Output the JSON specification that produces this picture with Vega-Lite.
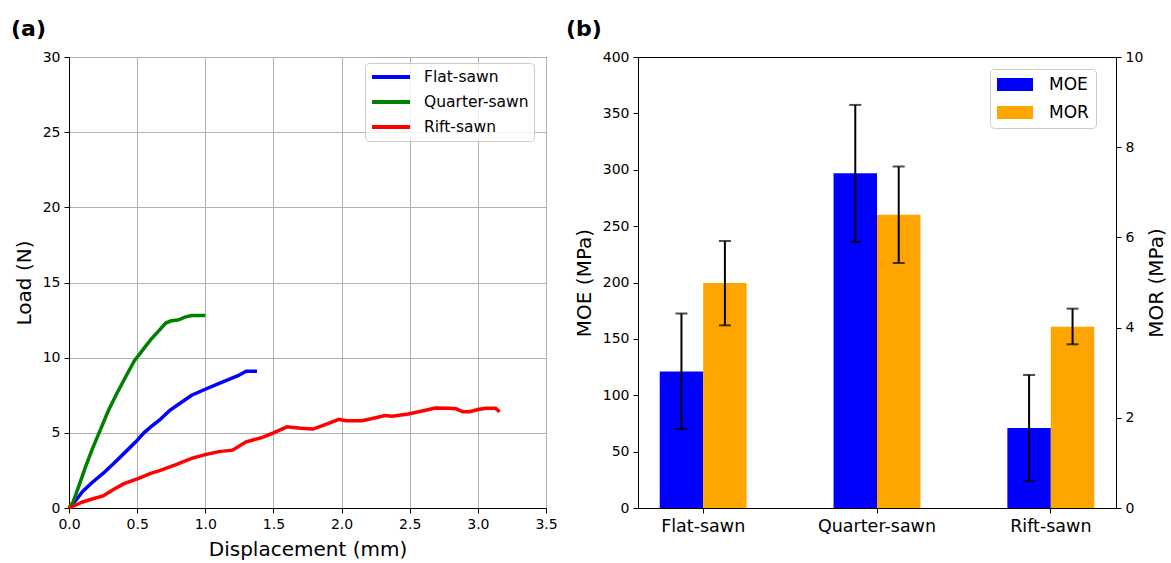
{
  "$schema": "https://vega.github.io/schema/vega-lite/v6.json",
  "background": "white",
  "padding": {"left": 10, "top": 17, "right": 0, "bottom": 0},
  "spacing": 7,
  "config": {
    "font": "DejaVu Sans",
    "view": {"stroke": "black", "strokeWidth": 1},
    "axis": {
      "domainColor": "black", "domainWidth": 1,
      "tickColor": "black", "tickSize": 5, "tickWidth": 1,
      "labelColor": "black", "labelFontSize": 14, "labelPadding": 4, "labelFont": "DejaVu Sans", "labelFlush": false,
      "titleColor": "black", "titleFontSize": 20, "titleFontWeight": "normal", "titlePadding": 8, "titleFont": "DejaVu Sans",
      "gridColor": "#b0b0b0", "gridWidth": 1, "gridOpacity": 1
    },
    "legend": {
      "labelColor": "black", "labelFont": "DejaVu Sans",
      "strokeColor": "#cccccc", "fillColor": "rgba(255,255,255,0.8)", "cornerRadius": 4
    },
    "title": {"font": "DejaVu Sans", "fontSize": 22, "fontWeight": "bold", "color": "black", "anchor": "start", "frame": "group", "baseline": "alphabetic", "offset": 9}
  },
  "datasets": {
    "curves": [
      {"cut": "Flat-sawn", "disp": 0.0, "load": 0.0},
      {"cut": "Flat-sawn", "disp": 0.05, "load": 0.5},
      {"cut": "Flat-sawn", "disp": 0.1, "load": 1.1},
      {"cut": "Flat-sawn", "disp": 0.17, "load": 1.7},
      {"cut": "Flat-sawn", "disp": 0.25, "load": 2.3},
      {"cut": "Flat-sawn", "disp": 0.32, "load": 2.9},
      {"cut": "Flat-sawn", "disp": 0.4, "load": 3.6},
      {"cut": "Flat-sawn", "disp": 0.49, "load": 4.4},
      {"cut": "Flat-sawn", "disp": 0.55, "load": 5.0},
      {"cut": "Flat-sawn", "disp": 0.6, "load": 5.4},
      {"cut": "Flat-sawn", "disp": 0.67, "load": 5.9},
      {"cut": "Flat-sawn", "disp": 0.74, "load": 6.5},
      {"cut": "Flat-sawn", "disp": 0.82, "load": 7.0},
      {"cut": "Flat-sawn", "disp": 0.9, "load": 7.5},
      {"cut": "Flat-sawn", "disp": 1.0, "load": 7.9},
      {"cut": "Flat-sawn", "disp": 1.08, "load": 8.2},
      {"cut": "Flat-sawn", "disp": 1.16, "load": 8.5},
      {"cut": "Flat-sawn", "disp": 1.24, "load": 8.8},
      {"cut": "Flat-sawn", "disp": 1.3, "load": 9.1},
      {"cut": "Flat-sawn", "disp": 1.38, "load": 9.1},
      {"cut": "Quarter-sawn", "disp": 0.0, "load": 0.0},
      {"cut": "Quarter-sawn", "disp": 0.03, "load": 0.4},
      {"cut": "Quarter-sawn", "disp": 0.07, "load": 1.4},
      {"cut": "Quarter-sawn", "disp": 0.12, "load": 2.7},
      {"cut": "Quarter-sawn", "disp": 0.17, "load": 3.9},
      {"cut": "Quarter-sawn", "disp": 0.23, "load": 5.2},
      {"cut": "Quarter-sawn", "disp": 0.29, "load": 6.5},
      {"cut": "Quarter-sawn", "disp": 0.35, "load": 7.6},
      {"cut": "Quarter-sawn", "disp": 0.42, "load": 8.8},
      {"cut": "Quarter-sawn", "disp": 0.48, "load": 9.8},
      {"cut": "Quarter-sawn", "disp": 0.54, "load": 10.5},
      {"cut": "Quarter-sawn", "disp": 0.6, "load": 11.2},
      {"cut": "Quarter-sawn", "disp": 0.66, "load": 11.8},
      {"cut": "Quarter-sawn", "disp": 0.71, "load": 12.3},
      {"cut": "Quarter-sawn", "disp": 0.75, "load": 12.45},
      {"cut": "Quarter-sawn", "disp": 0.8, "load": 12.5},
      {"cut": "Quarter-sawn", "disp": 0.85, "load": 12.7},
      {"cut": "Quarter-sawn", "disp": 0.9, "load": 12.8},
      {"cut": "Quarter-sawn", "disp": 0.95, "load": 12.8},
      {"cut": "Quarter-sawn", "disp": 1.0, "load": 12.8},
      {"cut": "Rift-sawn", "disp": 0.0, "load": 0.0},
      {"cut": "Rift-sawn", "disp": 0.05, "load": 0.2},
      {"cut": "Rift-sawn", "disp": 0.1, "load": 0.4},
      {"cut": "Rift-sawn", "disp": 0.17, "load": 0.6},
      {"cut": "Rift-sawn", "disp": 0.25, "load": 0.8},
      {"cut": "Rift-sawn", "disp": 0.32, "load": 1.2},
      {"cut": "Rift-sawn", "disp": 0.4, "load": 1.6},
      {"cut": "Rift-sawn", "disp": 0.52, "load": 2.0},
      {"cut": "Rift-sawn", "disp": 0.6, "load": 2.3},
      {"cut": "Rift-sawn", "disp": 0.67, "load": 2.5},
      {"cut": "Rift-sawn", "disp": 0.79, "load": 2.9},
      {"cut": "Rift-sawn", "disp": 0.9, "load": 3.3},
      {"cut": "Rift-sawn", "disp": 1.0, "load": 3.55},
      {"cut": "Rift-sawn", "disp": 1.1, "load": 3.75},
      {"cut": "Rift-sawn", "disp": 1.2, "load": 3.85},
      {"cut": "Rift-sawn", "disp": 1.3, "load": 4.4},
      {"cut": "Rift-sawn", "disp": 1.42, "load": 4.7},
      {"cut": "Rift-sawn", "disp": 1.5, "load": 5.0},
      {"cut": "Rift-sawn", "disp": 1.6, "load": 5.4},
      {"cut": "Rift-sawn", "disp": 1.7, "load": 5.3},
      {"cut": "Rift-sawn", "disp": 1.79, "load": 5.25},
      {"cut": "Rift-sawn", "disp": 1.88, "load": 5.55},
      {"cut": "Rift-sawn", "disp": 1.98, "load": 5.9},
      {"cut": "Rift-sawn", "disp": 2.03, "load": 5.8},
      {"cut": "Rift-sawn", "disp": 2.15, "load": 5.8},
      {"cut": "Rift-sawn", "disp": 2.25, "load": 6.0},
      {"cut": "Rift-sawn", "disp": 2.32, "load": 6.15},
      {"cut": "Rift-sawn", "disp": 2.37, "load": 6.1},
      {"cut": "Rift-sawn", "disp": 2.49, "load": 6.25},
      {"cut": "Rift-sawn", "disp": 2.64, "load": 6.55},
      {"cut": "Rift-sawn", "disp": 2.69, "load": 6.65},
      {"cut": "Rift-sawn", "disp": 2.79, "load": 6.63},
      {"cut": "Rift-sawn", "disp": 2.84, "load": 6.6},
      {"cut": "Rift-sawn", "disp": 2.89, "load": 6.4},
      {"cut": "Rift-sawn", "disp": 2.94, "load": 6.4},
      {"cut": "Rift-sawn", "disp": 3.0, "load": 6.55},
      {"cut": "Rift-sawn", "disp": 3.06, "load": 6.63},
      {"cut": "Rift-sawn", "disp": 3.13, "load": 6.63},
      {"cut": "Rift-sawn", "disp": 3.16, "load": 6.4}
    ],
    "props": [
      {"cut": "Flat-sawn", "measure": "MOE", "value": 121, "lo": 70, "hi": 172.5},
      {"cut": "Quarter-sawn", "measure": "MOE", "value": 297, "lo": 236, "hi": 357.5},
      {"cut": "Rift-sawn", "measure": "MOE", "value": 71, "lo": 24, "hi": 118},
      {"cut": "Flat-sawn", "measure": "MOR", "value": 4.99, "lo": 4.05, "hi": 5.92},
      {"cut": "Quarter-sawn", "measure": "MOR", "value": 6.5, "lo": 5.43, "hi": 7.57},
      {"cut": "Rift-sawn", "measure": "MOR", "value": 4.02, "lo": 3.63, "hi": 4.42}
    ]
  },
  "hconcat": [
    {
      "width": 477,
      "height": 451,
      "title": {"text": "(a)", "dx": -58},
      "data": {"name": "curves"},
      "mark": {"type": "line", "strokeWidth": 3.5},
      "encoding": {
        "x": {"field": "disp", "type": "quantitative", "scale": {"domain": [0, 3.5], "nice": false},
              "axis": {"title": "Displacement (mm)", "values": [0, 0.5, 1, 1.5, 2, 2.5, 3, 3.5], "format": ".1f", "grid": true}},
        "y": {"field": "load", "type": "quantitative", "scale": {"domain": [0, 30], "nice": false},
              "axis": {"title": "Load (N)", "values": [0, 5, 10, 15, 20, 25, 30], "grid": true}},
        "color": {"field": "cut", "type": "nominal",
                  "scale": {"domain": ["Flat-sawn", "Quarter-sawn", "Rift-sawn"], "range": ["#0000ff", "#008000", "#ff0000"]},
                  "legend": {"title": null, "orient": "none", "legendX": 296, "legendY": 6, "symbolType": "stroke", "symbolSize": 1444, "symbolStrokeWidth": 4, "clipHeight": 18, "rowPadding": 7, "labelFontSize": 15.5, "labelOffset": 12, "padding": 5}}
      }
    },
    {
      "width": 478,
      "height": 451,
      "title": {"text": "(b)", "dx": -72},
      "data": {"name": "props"},
      "encoding": {
        "x": {"field": "cut", "type": "nominal", "sort": ["Flat-sawn", "Quarter-sawn", "Rift-sawn"],
              "scale": {"paddingInner": 0.5, "paddingOuter": 0.125},
              "axis": {"title": null, "labelAngle": 0, "labelFontSize": 17.5, "grid": false}},
        "xOffset": {"field": "measure", "type": "nominal", "scale": {"domain": ["MOE", "MOR"], "paddingInner": 0, "paddingOuter": 0}}
      },
      "layer": [
        {
          "transform": [{"filter": "datum.measure === 'MOE'"}],
          "layer": [
            {"mark": {"type": "bar"},
             "encoding": {
               "y": {"field": "value", "type": "quantitative", "scale": {"domain": [0, 400], "nice": false},
                     "axis": {"title": "MOE (MPa)", "orient": "left", "values": [0, 50, 100, 150, 200, 250, 300, 350, 400], "grid": false}},
               "color": {"field": "measure", "type": "nominal",
                         "scale": {"domain": ["MOE", "MOR"], "range": ["#0000ff", "#ffa500"]},
                         "legend": {"title": null, "orient": "none", "legendX": 352, "legendY": 12, "symbolType": "M-1,-0.36L1,-0.36L1,0.36L-1,0.36Z", "symbolSize": 1296, "symbolStrokeWidth": 0, "clipHeight": 17, "rowPadding": 10, "labelFontSize": 17, "labelOffset": 16, "padding": 7}}
             }},
            {"mark": {"type": "rule", "strokeWidth": 2, "color": "black"},
             "encoding": {
               "y": {"field": "lo", "type": "quantitative", "scale": {"domain": [0, 400], "nice": false},
                     "axis": {"title": "MOE (MPa)", "orient": "left", "values": [0, 50, 100, 150, 200, 250, 300, 350, 400], "grid": false}},
               "y2": {"field": "hi"}
             }},
            {"mark": {"type": "tick", "orient": "horizontal", "size": 12, "thickness": 2, "color": "black"},
             "encoding": {"y": {"field": "lo", "type": "quantitative", "scale": {"domain": [0, 400], "nice": false},
                     "axis": {"title": "MOE (MPa)", "orient": "left", "values": [0, 50, 100, 150, 200, 250, 300, 350, 400], "grid": false}}}},
            {"mark": {"type": "tick", "orient": "horizontal", "size": 12, "thickness": 2, "color": "black"},
             "encoding": {"y": {"field": "hi", "type": "quantitative", "scale": {"domain": [0, 400], "nice": false},
                     "axis": {"title": "MOE (MPa)", "orient": "left", "values": [0, 50, 100, 150, 200, 250, 300, 350, 400], "grid": false}}}}
          ]
        },
        {
          "transform": [{"filter": "datum.measure === 'MOR'"}],
          "layer": [
            {"mark": {"type": "bar"},
             "encoding": {
               "y": {"field": "value", "type": "quantitative", "scale": {"domain": [0, 10], "nice": false},
                     "axis": {"title": "MOR (MPa)", "orient": "right", "values": [0, 2, 4, 6, 8, 10], "grid": false, "titleAngle": 270, "titlePadding": 24}},
               "color": {"field": "measure", "type": "nominal",
                         "scale": {"domain": ["MOE", "MOR"], "range": ["#0000ff", "#ffa500"]},
                         "legend": {"title": null, "orient": "none", "legendX": 352, "legendY": 12, "symbolType": "M-1,-0.36L1,-0.36L1,0.36L-1,0.36Z", "symbolSize": 1296, "symbolStrokeWidth": 0, "clipHeight": 17, "rowPadding": 10, "labelFontSize": 17, "labelOffset": 16, "padding": 7}}
             }},
            {"mark": {"type": "rule", "strokeWidth": 2, "color": "black"},
             "encoding": {
               "y": {"field": "lo", "type": "quantitative", "scale": {"domain": [0, 10], "nice": false},
                     "axis": {"title": "MOR (MPa)", "orient": "right", "values": [0, 2, 4, 6, 8, 10], "grid": false, "titleAngle": 270, "titlePadding": 24}},
               "y2": {"field": "hi"}
             }},
            {"mark": {"type": "tick", "orient": "horizontal", "size": 12, "thickness": 2, "color": "black"},
             "encoding": {"y": {"field": "lo", "type": "quantitative", "scale": {"domain": [0, 10], "nice": false},
                     "axis": {"title": "MOR (MPa)", "orient": "right", "values": [0, 2, 4, 6, 8, 10], "grid": false, "titleAngle": 270, "titlePadding": 24}}}},
            {"mark": {"type": "tick", "orient": "horizontal", "size": 12, "thickness": 2, "color": "black"},
             "encoding": {"y": {"field": "hi", "type": "quantitative", "scale": {"domain": [0, 10], "nice": false},
                     "axis": {"title": "MOR (MPa)", "orient": "right", "values": [0, 2, 4, 6, 8, 10], "grid": false, "titleAngle": 270, "titlePadding": 24}}}}
          ]
        }
      ],
      "resolve": {"scale": {"y": "independent"}}
    }
  ],
  "resolve": {"scale": {"color": "independent"}, "legend": {"color": "independent"}}
}
